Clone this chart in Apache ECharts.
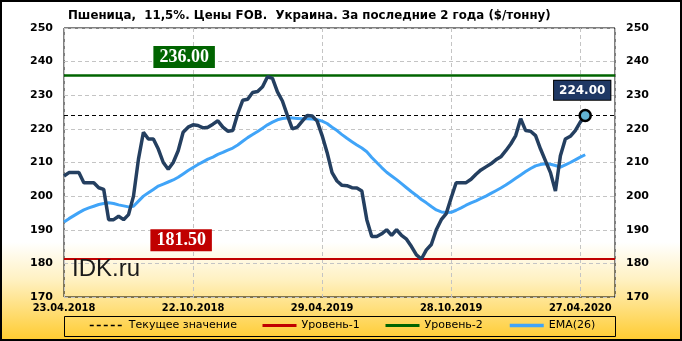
<!DOCTYPE html>
<html>
<head>
<meta charset="utf-8">
<script src="https://cdn.jsdelivr.net/npm/echarts@6/dist/echarts.min.js"></script>
<style>html,body{margin:0;padding:0;background:#fff}#c{width:682px;height:341px}</style>
</head>
<body>
<div id="c"></div>
<script>
// Tick labels along the time axis (one every 26 weeks)
const tickLabels = ['23.04.2018', '22.10.2018', '29.04.2019', '28.10.2019', '27.04.2020'];
const tickStep = 26;
const axisEnd = 111;

// Weekly FOB price, $/t
const price = [
  206, 207, 207, 207, 204, 204, 204, 202.5, 202, 193,
  193, 194, 193, 194.5, 200, 211, 219, 217, 217, 214,
  210, 208, 210, 213.5, 219, 220.5, 221.2, 221, 220.3, 220.5,
  221.4, 222.4, 220.5, 219.3, 219.5, 224.5, 228.5, 228.8, 230.8, 231.1,
  232.5, 235.5, 235, 231, 228.3, 224, 220, 220.5, 222.3, 224,
  223.8, 222.3, 218, 213, 207, 204.5, 203.2, 203.1, 202.5, 202.4,
  201.5, 193, 188, 188, 188.8, 190, 188.3, 190, 188.3, 187.2,
  185, 182.5, 181.3, 184, 185.6, 190, 193, 194.8, 199.5, 204,
  204, 204, 205, 206.5, 207.8, 208.7, 209.6, 210.8, 211.7, 213.5,
  215.5, 218, 223, 219.5, 219.3, 218, 214, 210.5, 207, 201.5,
  212, 217, 217.8, 219.5, 222, 224
];

// EMA(26)
const ema = [
  192.3, 193.3, 194.2, 195.1, 195.9, 196.5, 197, 197.5, 197.8, 198,
  197.8, 197.4, 197.1, 196.8, 197, 198.5, 200, 201, 202, 203,
  203.6, 204.2, 204.8, 205.6, 206.6, 207.6, 208.5, 209.4, 210.2, 211,
  211.6, 212.4, 213, 213.7, 214.3, 215.2, 216.3, 217.4, 218.3, 219.2,
  220.2, 221.2, 222, 222.7, 223.1, 223.2, 223.2, 223.1, 223, 223,
  222.9, 222.7, 222.3, 221.6, 220.5, 219.5, 218.3, 217.2, 216.2, 215.2,
  214.3, 213.2, 211.5, 210, 208.5, 207.1, 206, 204.9, 203.7, 202.5,
  201.3, 200.2, 199, 198, 196.9, 195.9, 195.3, 195.1, 195.2, 195.8,
  196.5, 197.3, 198, 198.6, 199.3, 200, 200.8, 201.6, 202.4, 203.3,
  204.3, 205.3, 206.3, 207.3, 208.2, 209, 209.4, 209.6, 209.5, 209.1,
  208.6, 209.3, 210, 210.8, 211.6, 212.3
];

const level1 = 181.5;
const level2 = 236;
const lastIdx = price.length - 1;
const current = price[lastIdx];

const yTicks = {min: 170, max: 250, interval: 10};

const chart = echarts.init(document.getElementById('c'), null, {renderer: 'canvas'});
const axisFont = {fontFamily: 'DejaVu Sans', fontWeight: 'bold', fontSize: 11, color: '#000'};
const xFont = {fontFamily: '"DejaVu Sans Condensed", "DejaVu Sans"', fontWeight: 'bold', fontSize: 11, color: '#000'};
const gridLine = {show: true, lineStyle: {color: '#C4C4C4', type: [4, 3], width: 1}};

function legendAt(name, left, lw) {
  return {
    data: [name], left: left, top: 320, itemWidth: 34, itemHeight: 14, itemGap: 0, padding: 0,
    itemStyle: {opacity: 0},
    lineStyle: {width: lw},
    textStyle: {fontFamily: 'DejaVu Sans', fontSize: 11, color: '#000'},
    selectedMode: false
  };
}

chart.setOption({
  animation: false,
  backgroundColor: 'transparent',
  title: {
    text: 'Пшеница,  11,5%. Цены FOB.  Украина. За последние 2 года ($/тонну)',
    left: 63, top: 5,
    textStyle: {fontFamily: 'DejaVu Sans', fontWeight: 'bold', fontSize: 11.8, color: '#000'}
  },
  graphic: [
    {type: 'rect', z: -100, silent: true, shape: {x: 0, y: 0, width: 682, height: 341},
     style: {fill: {type: 'linear', x: 0, y: 0, x2: 0, y2: 1, colorStops: [
       {offset: 0, color: '#FFFFFF'}, {offset: 0.71, color: '#FFFFFF'},
       {offset: 0.82, color: '#FFF1C2'}, {offset: 1, color: '#FFCB2E'}]}}},
    {type: 'rect', z: 100, silent: true, shape: {x: 1, y: 1, width: 680, height: 339},
     style: {fill: null, stroke: '#000', lineWidth: 2}},
    {type: 'rect', z: 5, silent: true, shape: {x: 64.5, y: 316.5, width: 551, height: 20},
     style: {fill: null, stroke: '#000', lineWidth: 1}},
    {type: 'text', z: 5, silent: true, left: 72, top: 257,
     style: {text: 'IDK.ru', font: '24px "Liberation Sans", Arial, sans-serif', fill: '#1a1a1a'}}
  ],
  legend: [
    legendAt('Текущее значение', 89, 1.5),
    legendAt('Уровень-1', 261, 3),
    legendAt('Уровень-2', 384, 3),
    legendAt('EMA(26)', 508, 3.5)
  ],
  grid: {left: 64, right: 67, top: 28, height: 269, show: true, borderColor: '#000', borderWidth: 1, backgroundColor: 'transparent'},
  xAxis: {
    type: 'value', min: 0, max: axisEnd, interval: tickStep,
    axisLine: {show: false}, axisTick: {show: false},
    splitLine: gridLine,
    axisLabel: Object.assign({margin: 6, showMaxLabel: false,
      formatter: v => (v % tickStep === 0 && tickLabels[v / tickStep]) || ''}, xFont)
  },
  yAxis: [
    Object.assign({type: 'value', position: 'left', axisLine: {show: false}, axisTick: {show: false},
      splitLine: gridLine, axisLabel: Object.assign({margin: 11}, axisFont)}, yTicks),
    Object.assign({type: 'value', position: 'right', axisLine: {show: false}, axisTick: {show: false},
      splitLine: {show: false}, axisLabel: Object.assign({margin: 11}, axisFont)}, yTicks)
  ],
  series: [
    {
      name: 'Уровень-1', type: 'line', data: [], symbol: 'none',
      lineStyle: {color: '#C00000', width: 3},
      markLine: {silent: true, symbol: 'none', z: 3,
        lineStyle: {color: '#C00000', width: 2, type: 'solid'},
        label: {show: false}, data: [{yAxis: level1}]},
      markPoint: {silent: true, symbol: 'rect', symbolSize: 0, data: [{coord: [24, level1]}],
        label: {show: true, formatter: level1.toFixed(2), offset: [-2, -18], color: '#fff',
          fontFamily: 'Liberation Serif', fontWeight: 'bold', fontSize: 18,
          backgroundColor: '#C00000', padding: [3, 6, 1, 6]}}
    },
    {
      name: 'Уровень-2', type: 'line', data: [], symbol: 'none',
      lineStyle: {color: '#006400', width: 3},
      markLine: {silent: true, symbol: 'none', z: 3,
        lineStyle: {color: '#006400', width: 2.5, type: 'solid'},
        label: {show: false}, data: [{yAxis: level2}]},
      markPoint: {silent: true, symbol: 'rect', symbolSize: 0, data: [{coord: [24, level2]}],
        label: {show: true, formatter: level2.toFixed(2), offset: [1, -18], color: '#fff',
          fontFamily: 'Liberation Serif', fontWeight: 'bold', fontSize: 18,
          backgroundColor: '#006400', padding: [3, 6, 1, 6]}}
    },
    {
      name: 'Текущее значение', type: 'line', data: [], symbol: 'none',
      lineStyle: {color: '#000', width: 1, type: [4, 3]},
      markLine: {silent: true, symbol: 'none', z: 3,
        lineStyle: {color: '#000', width: 1, type: [4, 3]},
        label: {show: false}, data: [{yAxis: current}]}
    },
    {
      name: 'EMA(26)', type: 'line', data: ema.map((v, i) => [i, v]), symbol: 'none', z: 4,
      lineStyle: {color: '#40A4F8', width: 3}
    },
    {
      name: 'Цена', type: 'line', data: price.map((v, i) => [i, v]), symbol: 'none', z: 5,
      lineStyle: {color: '#243F60', width: 3.5}
    },
    {
      name: 'last', type: 'scatter', z: 6, data: [[lastIdx, current]], symbol: 'circle', symbolSize: 11,
      itemStyle: {color: '#62B3D3', borderColor: '#000', borderWidth: 2.5, opacity: 1},
      label: {show: true, position: 'top', distance: 9, offset: [-3, 0],
        formatter: p => p.value[1].toFixed(2), color: '#fff', opacity: 1,
        fontFamily: 'DejaVu Sans', fontWeight: 'bold', fontSize: 12,
        backgroundColor: '#1F3864', borderColor: '#000', borderWidth: 1, padding: [4, 5, 3, 5]}
    }
  ]
});
</script>
</body>
</html>
